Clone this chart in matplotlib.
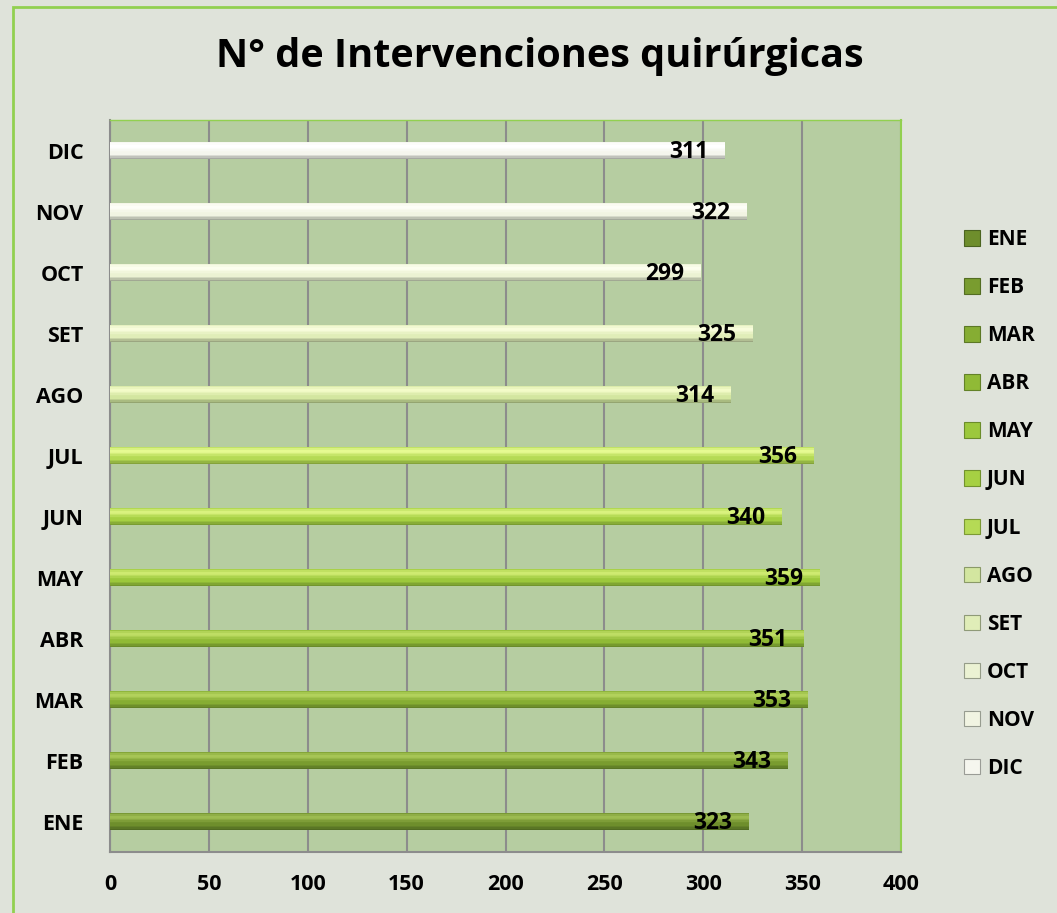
import matplotlib
matplotlib.use("Agg")
import matplotlib.pyplot as plt
import numpy as np
from matplotlib.patches import Rectangle, Patch
from matplotlib.colors import to_rgb

months = ["ENE", "FEB", "MAR", "ABR", "MAY", "JUN", "JUL", "AGO", "SET", "OCT", "NOV", "DIC"]
values = [323, 343, 353, 351, 359, 340, 356, 314, 325, 299, 322, 311]
xticks = [0, 50, 100, 150, 200, 250, 300, 350, 400]
title = "N° de Intervenciones quirúrgicas"

main_colors = ["#6E8E2C", "#799C2F", "#86AD33", "#90BA36", "#9CC83C", "#A6D043", "#B5DA55",
               "#D3E6A0", "#E0EDB8", "#EBF2D3", "#F1F4E2", "#F5F6EE"]
hi_colors = ["#9CBB50", "#A6C555", "#B2D15C", "#BEDD64", "#CEEA70", "#D9F27E", "#E6FA92",
             "#F3FBC8", "#F8FCDC", "#FCFEEE", "#FDFEF7", "#FFFFFF"]
dark_colors = ["#4B6420", "#536D22", "#5C7825", "#638228", "#6B8C2A", "#72932E", "#7C9A35",
               "#8A9A68", "#8F9A78", "#959C88", "#979C90", "#9A9C96"]

plt.rcParams['font.family'] = ['Open Sans', 'DejaVu Sans']
plt.rcParams['font.weight'] = 'bold'

fig = plt.figure(figsize=(10.57, 9.13), dpi=100)
fig.patch.set_facecolor("#DFE3DA")
fig.patches.append(Rectangle((13/1057, -0.1), 1.0, 1.1 - 7/913, transform=fig.transFigure,
                             fill=False, edgecolor="#92D050", linewidth=2, zorder=0))

ax = fig.add_axes([110/1057, 1 - 852/913, (901 - 110)/1057, (852 - 120)/913])
ax.set_facecolor("#B6CDA1")

y = np.arange(len(months))
h = 0.27
nslice = 14
stops = [0.0, 0.25, 0.45, 0.7, 0.85, 1.0]
for i in range(nslice):
    t = (i + 0.5) / nslice
    cols = []
    for m, hi, d in zip(main_colors, hi_colors, dark_colors):
        pts = [np.array(to_rgb(c)) for c in (d, m, m, hi, hi, m)]
        rgb = np.array([np.interp(t, stops, [p[k] for p in pts]) for k in range(3)])
        cols.append(rgb)
    ax.barh(y - h / 2 + (i + 0.5) * h / nslice, values, height=h / nslice * 1.05,
            color=cols, zorder=3, linewidth=0)

for yy, v in zip(y, values):
    ax.text(v - 8.5, yy - 0.03, str(v), ha='right', va='center', fontsize=16.5,
            fontweight='bold', color='black', zorder=5)

ax.set_xlim(0, 400)
ax.set_ylim(-0.5, len(months) - 0.5)
ax.set_xticks(xticks)
ax.set_xticklabels([str(t) for t in xticks], fontsize=15.5, fontweight='bold')
ax.set_yticks(y)
ax.set_yticklabels(months, fontsize=15.5, fontweight='bold')
ax.tick_params(axis='x', length=0, pad=16)
ax.tick_params(axis='y', length=0, pad=19)
ax.xaxis.grid(True, color="#8C8C8C", linewidth=1.5, zorder=1)
ax.set_axisbelow(True)
for s in ["left", "bottom"]:
    ax.spines[s].set_color("#8C8C8C")
    ax.spines[s].set_linewidth(1.5)
ax.spines["right"].set_color("#92D050")
ax.spines["right"].set_linewidth(1.5)
ax.spines["top"].set_color("#92D050")
ax.spines["top"].set_linewidth(1.0)

fig.text(540/1057, 1 - 57/913, title, ha='center', va='center', fontsize=28.5, fontweight='bold')

handles = [Patch(facecolor=c, edgecolor=d, linewidth=0.8) for c, d in zip(main_colors, dark_colors)]
leg = fig.legend(handles, months, loc='center left', bbox_to_anchor=(964/1057, 1 - 504/913),
                 frameon=False, labelspacing=1.30, handlelength=0.77, borderpad=0,
                 borderaxespad=0, handleheight=0.77, handletextpad=0.33,
                 prop={'weight': 'bold', 'size': 15})

fig.savefig("out.png", dpi=100, facecolor=fig.get_facecolor())
